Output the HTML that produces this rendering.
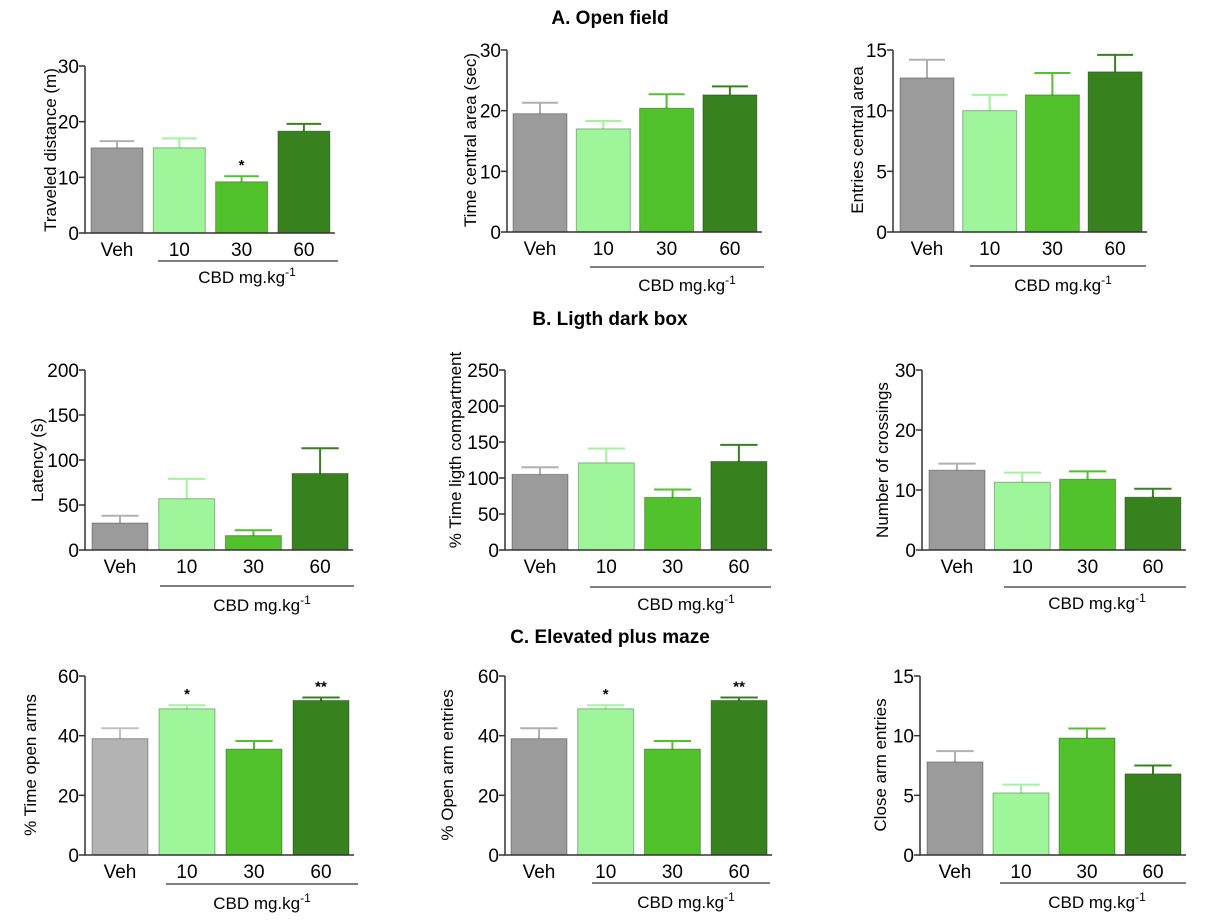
<!DOCTYPE html>
<html><head><meta charset="utf-8">
<style>
html,body{margin:0;padding:0;background:#fff;}
svg{display:block;font-family:"Liberation Sans",Arial,sans-serif;}
</style></head>
<body>
<svg id="fig" width="1219" height="924" viewBox="0 0 1219 924" xmlns="http://www.w3.org/2000/svg">
<text x="610" y="24" text-anchor="middle" font-size="19" font-weight="bold">A. Open field</text>
<text x="610" y="325" text-anchor="middle" font-size="19" font-weight="bold">B. Ligth dark box</text>
<text x="610" y="643" text-anchor="middle" font-size="19" font-weight="bold">C. Elevated plus maze</text>
</svg>
<script>
const categories = ["Veh","10","30","60"];
const travelMean = [15.3,15.3,9.2,18.3];
const travelErr = [1.2,1.7,1.0,1.3];
const timeCentralMean = [19.5,17.0,20.4,22.6];
const timeCentralErr = [1.8,1.3,2.3,1.4];
const entriesCentralMean = [12.7,10.0,11.3,13.2];
const entriesCentralErr = [1.5,1.3,1.8,1.4];
const latencyMean = [30,57,16,85];
const latencyErr = [8,22,6,28];
const timeLightMean = [105,121,73,123];
const timeLightErr = [10,20,11,23];
const crossingsMean = [13.3,11.3,11.8,8.8];
const crossingsErr = [1.1,1.6,1.3,1.4];
const timeOpenMean = [39,49,35.5,51.8];
const timeOpenErr = [3.5,1.2,2.7,1.0];
const openEntriesMean = [39,49,35.5,51.8];
const openEntriesErr = [3.5,1.2,2.7,1.0];
const closeEntriesMean = [7.8,5.2,9.8,6.8];
const closeEntriesErr = [0.9,0.7,0.8,0.7];
const ticks30 = [0,10,20,30];
const ticks15 = [0,5,10,15];
const ticks200 = [0,50,100,150,200];
const ticks250 = [0,50,100,150,200,250];
const ticks60 = [0,20,40,60];
const sigA1 = ["","","*",""];
const sigC = ["","*","","**"];
const noSig = ["","","",""];

const colors = ["#9b9b9b","#9ef59a","#52c22c","#37821f"];
const errColors = ["#b0b0b0","#9ef59a","#52c22c","#37821f"];
const NS="http://www.w3.org/2000/svg";
const svg=document.getElementById('fig');
function mk(tag,attrs,parent){const e=document.createElementNS(NS,tag);for(const k in attrs)e.setAttribute(k,attrs[k]);(parent||svg).appendChild(e);return e;}

const panels=[
 {id:"traveled-distance",ax:85,top:66,bot:233,max:30,ticks:ticks30,bx:91,bw:52,gap:62.3,mean:travelMean,err:travelErr,sig:sigA1,title:"Traveled distance (m)",tx:50,ty:150,lx1:158,lx2:338,ly:261,cx:247,cy:283},
 {id:"time-central-area",ax:507,top:50,bot:232,max:30,ticks:ticks30,bx:513,bw:54,gap:63.3,mean:timeCentralMean,err:timeCentralErr,sig:noSig,title:"Time central area (sec)",tx:470,ty:140,lx1:590,lx2:764,ly:267,cx:687,cy:291},
 {id:"entries-central-area",ax:893,top:50,bot:232,max:15,ticks:ticks15,bx:900,bw:54,gap:62.7,mean:entriesCentralMean,err:entriesCentralErr,sig:noSig,title:"Entries central area",tx:857,ty:140,lx1:970,lx2:1146,ly:266,cx:1063,cy:291},
 {id:"latency",ax:85,top:370,bot:550,max:200,ticks:ticks200,bx:92,bw:56,gap:66.7,mean:latencyMean,err:latencyErr,sig:noSig,title:"Latency (s)",tx:37,ty:460,lx1:160,lx2:354,ly:586,cx:262,cy:611},
 {id:"time-light-compartment",ax:505,top:370,bot:550,max:250,ticks:ticks250,bx:512,bw:56,gap:66.3,mean:timeLightMean,err:timeLightErr,sig:noSig,title:"% Time  ligth compartment",tx:455,ty:450,lx1:590,lx2:771,ly:587,cx:686,cy:610},
 {id:"number-of-crossings",ax:922,top:370,bot:550,max:30,ticks:ticks30,bx:929,bw:56,gap:65.3,mean:crossingsMean,err:crossingsErr,sig:noSig,title:"Number of crossings",tx:882,ty:460,lx1:1004,lx2:1186,ly:587,cx:1097,cy:609},
 {id:"time-open-arms",ax:85,top:676,bot:855,max:60,ticks:ticks60,bx:92,bw:56,gap:67,mean:timeOpenMean,err:timeOpenErr,sig:sigC,title:"% Time open arms",tx:30,ty:765,lx1:166,lx2:358,ly:884,cx:262,cy:909,firstColor:"#b3b3b3"},
 {id:"open-arm-entries",ax:505,top:676,bot:855,max:60,ticks:ticks60,bx:511,bw:56,gap:66.7,mean:openEntriesMean,err:openEntriesErr,sig:sigC,title:"% Open arm entries",tx:447,ty:765,lx1:592,lx2:770,ly:883,cx:686,cy:908},
 {id:"close-arm-entries",ax:920,top:676,bot:855,max:15,ticks:ticks15,bx:927,bw:56,gap:66,mean:closeEntriesMean,err:closeEntriesErr,sig:noSig,title:"Close arm entries",tx:880,ty:765,lx1:1000,lx2:1186,ly:883,cx:1097,cy:908}
];

panels.forEach(p=>{
  const g=mk('g',{});
  
  
  const y=v=>p.bot-(v/p.max)*(p.bot-p.top);
  const xEnd=p.bx+3*p.gap+p.bw+5;
  categories.forEach((c,i)=>{
    const x=p.bx+i*p.gap, cx=x+p.bw/2;
    const top=y(p.mean[i]), et=y(p.mean[i]+p.err[i]);
    const ec=(i===0&&p.firstColor)?"#c0c0c0":errColors[i];
    const e=mk('path',{d:`M${cx},${top}V${et}M${cx-p.bw/3},${et}H${cx+p.bw/3}`,stroke:ec,'stroke-width':2,fill:'none'},g);
    
    
    const r=mk('rect',{x:x,y:top,width:p.bw,height:p.bot-top,fill:(i===0&&p.firstColor)?p.firstColor:colors[i],stroke:'rgba(0,0,0,0.3)','stroke-width':1},g);
    
    
    const t=mk('text',{x:cx,y:p.bot+23,'text-anchor':'middle','font-size':19},g);t.textContent=c;
    
    
    if(p.sig[i]){const s=mk('text',{x:cx,y:et-6,'text-anchor':'middle','font-size':15,'font-weight':'bold'},g);s.textContent=p.sig[i];
      
      }
  });
  const a=mk('path',{d:`M${p.ax},${p.top}V${p.bot}H${xEnd}`,stroke:'#333',fill:'none','stroke-width':1.5},g);
  
  
  p.ticks.forEach(v=>{
    mk('line',{x1:p.ax-6,x2:p.ax,y1:y(v),y2:y(v),stroke:'#333','stroke-width':1.5},g);
    const t=mk('text',{x:p.ax-6,y:y(v)+7,'text-anchor':'end','font-size':19},g);t.textContent=v;
    
    
  });
  const yt=mk('text',{x:p.tx,y:p.ty,'text-anchor':'middle','font-size':17,transform:`rotate(-90 ${p.tx} ${p.ty})`,dy:6},g);yt.textContent=p.title;
  
  
  const gl=mk('line',{x1:p.lx1,x2:p.lx2,y1:p.ly,y2:p.ly,stroke:'#333','stroke-width':1.2},g);
  
  
  const gt=mk('text',{x:p.cx,y:p.cy,'text-anchor':'middle','font-size':17},g);
  gt.innerHTML='CBD mg.kg<tspan dy="-7" font-size="12">-1</tspan>';
  
  
});
</script>
</body></html>
